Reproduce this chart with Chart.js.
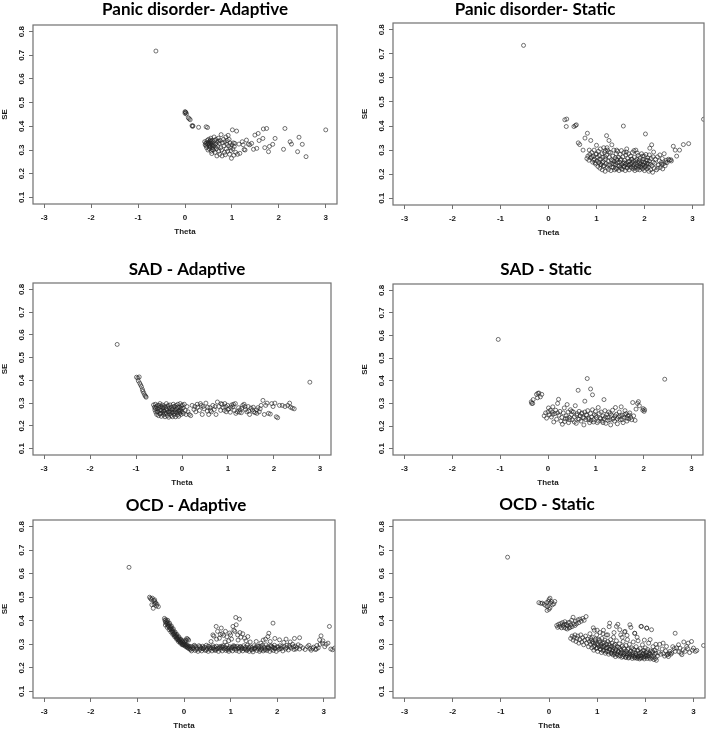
<!DOCTYPE html>
<html>
<head>
<meta charset="utf-8">
<script src="https://cdn.jsdelivr.net/npm/chart.js@4.4.1/dist/chart.umd.min.js"></script>
<style>
html, body { margin: 0; padding: 0; background: #fff; overflow: hidden; }
#page { position: relative; width: 709px; height: 732px; }
canvas { position: absolute; }
</style>
</head>
<body>
<div id="page"></div>
<script>
// axis ticks and ranges (R default 4% extension of -3..3 and 0.1..0.8)
const thetaTicks = [-3, -2, -1, 0, 1, 2, 3];
const seTicks = [0.1, 0.2, 0.3, 0.4, 0.5, 0.6, 0.7, 0.8];
const thetaRange = [-3.24, 3.24];
const seRange = [0.072, 0.828];
const panelTitles = ['Panic disorder- Adaptive', 'Panic disorder- Static', 'SAD - Adaptive', 'SAD - Static', 'OCD - Adaptive', 'OCD - Static'];

// [theta, SE]
const panicAdaptive = [
  [-0.62,0.718],
  [0.0,0.462],[0.01,0.460],[0.02,0.458],[0.0,0.455],[0.03,0.452],
  [0.07,0.436],[0.09,0.432],[0.11,0.428],[0.15,0.403],[0.16,0.400],[0.17,0.402],
  [0.29,0.396],[0.45,0.398],[0.48,0.395],
  [0.42,0.335],[0.44,0.328],[0.45,0.318],[0.46,0.310],[0.47,0.340],[0.48,0.325],[0.49,0.300],[0.50,0.332],[0.50,0.345],[0.51,0.318],
  [0.52,0.322],[0.52,0.305],[0.53,0.338],[0.54,0.315],[0.55,0.350],[0.55,0.328],[0.56,0.295],[0.57,0.285],[0.57,0.320],[0.58,0.340],
  [0.59,0.310],[0.60,0.330],[0.61,0.300],[0.62,0.355],[0.62,0.318],[0.63,0.340],[0.64,0.290],[0.65,0.325],[0.66,0.345],[0.67,0.305],
  [0.68,0.275],[0.69,0.335],[0.70,0.315],[0.71,0.350],[0.72,0.295],[0.73,0.328],[0.74,0.282],[0.75,0.340],[0.76,0.310],[0.77,0.365],
  [0.78,0.300],[0.79,0.275],[0.80,0.330],[0.82,0.345],[0.83,0.318],[0.84,0.290],[0.85,0.335],[0.86,0.280],[0.87,0.355],[0.88,0.305],
  [0.89,0.325],[0.90,0.340],[0.91,0.295],[0.92,0.362],[0.93,0.318],[0.94,0.345],[0.95,0.282],[0.96,0.330],[0.97,0.310],[0.98,0.298],
  [0.99,0.265],[1.00,0.322],[1.01,0.385],[1.02,0.305],[1.03,0.330],[1.04,0.278],[1.05,0.315],[1.06,0.328],[1.08,0.290],[1.10,0.380],
  [0.43,0.322],[0.46,0.330],[0.53,0.312],[0.56,0.335],[0.58,0.302],[0.60,0.320],[0.51,0.328],[0.54,0.342],[0.65,0.312],[0.72,0.338],
  [1.17,0.286],[1.22,0.335],[1.24,0.322],[1.28,0.300],[1.31,0.342],[1.35,0.325],[1.42,0.328],[1.46,0.303],[1.49,0.363],[1.53,0.307],
  [1.56,0.370],[1.58,0.340],[1.67,0.389],[1.66,0.349],[1.70,0.310],[1.74,0.391],[1.78,0.293],[1.80,0.315],[1.87,0.324],[1.92,0.349],
  [2.13,0.391],[2.10,0.303],[2.24,0.335],[2.27,0.325],[2.40,0.293],[2.43,0.354],[2.50,0.324],[2.58,0.272],[3.00,0.385],[1.26,0.302],
  [1.38,0.322],[1.12,0.282],[1.15,0.325]
];

const panicStatic = [
  [-0.52,0.735],[0.34,0.426],[0.38,0.429],[0.37,0.398],[0.53,0.398],[0.58,0.405],[0.56,0.402],
  [0.62,0.330],[0.65,0.323],[0.72,0.300],[0.76,0.350],[0.81,0.370],[0.88,0.340],[0.85,0.300],
  [1.21,0.360],[1.56,0.400],[2.02,0.367],[3.23,0.428],
  [2.92,0.327],[2.81,0.323],[2.73,0.300],[2.67,0.275],[2.60,0.316],[2.64,0.300],[2.55,0.260],[2.56,0.255],[2.52,0.258],
  [0.80,0.265],[0.82,0.275],[0.84,0.258],[0.86,0.282],[0.88,0.268],[0.90,0.290],[0.92,0.250],[0.93,0.275],[0.95,0.300],[0.96,0.262],
  [0.98,0.242],[0.99,0.282],[1.00,0.320],[1.01,0.255],[1.02,0.270],[1.03,0.232],[1.04,0.295],[1.05,0.248],[1.06,0.278],[1.07,0.225],
  [1.08,0.305],[1.09,0.262],[1.10,0.240],[1.11,0.285],[1.12,0.218],[1.13,0.270],[1.14,0.252],[1.15,0.310],[1.16,0.235],[1.17,0.290],
  [1.18,0.212],[1.19,0.262],[1.20,0.245],[1.21,0.280],[1.22,0.228],[1.23,0.300],[1.24,0.255],[1.25,0.220],[1.26,0.340],[1.27,0.270],
  [1.28,0.238],[1.29,0.290],[1.30,0.215],[1.31,0.260],[1.32,0.322],[1.33,0.245],[1.34,0.275],[1.35,0.228],[1.36,0.300],[1.37,0.252],
  [1.38,0.218],[1.39,0.268],[1.40,0.240],[1.41,0.285],[1.42,0.222],[1.43,0.258],[1.44,0.295],[1.45,0.235],[1.46,0.270],[1.47,0.215],
  [1.48,0.250],[1.49,0.282],[1.50,0.228],[1.51,0.262],[1.52,0.298],[1.53,0.240],[1.54,0.220],[1.55,0.272],[1.56,0.245],[1.57,0.290],
  [1.58,0.232],[1.59,0.258],[1.60,0.215],[1.61,0.280],[1.62,0.245],[1.63,0.305],[1.64,0.225],[1.65,0.265],[1.66,0.238],[1.67,0.285],
  [1.68,0.218],[1.69,0.255],[1.70,0.242],
  [1.71,0.275],[1.72,0.228],[1.73,0.262],[1.74,0.248],[1.75,0.290],[1.76,0.222],[1.77,0.255],[1.78,0.238],[1.79,0.270],[1.80,0.215],
  [1.81,0.245],[1.82,0.300],[1.83,0.232],[1.84,0.262],[1.85,0.220],[1.86,0.250],[1.87,0.278],[1.88,0.235],[1.89,0.258],[1.90,0.218],
  [1.91,0.268],[1.92,0.242],[1.93,0.228],[1.94,0.285],[1.95,0.252],[1.96,0.222],[1.97,0.262],[1.98,0.238],[1.99,0.275],[2.00,0.215],
  [2.01,0.248],[2.02,0.232],[2.03,0.282],[2.04,0.258],[2.05,0.222],[2.06,0.245],[2.07,0.268],[2.08,0.230],[2.09,0.212],[2.10,0.255],
  [2.11,0.308],[2.12,0.240],[2.13,0.218],[2.14,0.265],[2.15,0.322],[2.16,0.235],[2.17,0.208],[2.18,0.250],[2.19,0.292],[2.20,0.225],
  [2.21,0.245],[2.23,0.262],[2.25,0.218],[2.27,0.272],[2.29,0.238],[2.31,0.255],[2.33,0.228],[2.35,0.248],[2.37,0.265],[2.39,0.242],
  [2.41,0.285],[2.43,0.235],[2.45,0.258],[2.47,0.248],[2.50,0.262],[2.28,0.225],[2.36,0.240],[2.44,0.250],[2.32,0.280],[2.38,0.222],
  [1.32,0.230],[1.36,0.242],[1.40,0.225],[1.44,0.248],[1.48,0.235],[1.52,0.222],[1.56,0.232],[1.60,0.240],[1.64,0.228],[1.68,0.236],
  [1.72,0.240],[1.76,0.230],[1.80,0.226],[1.84,0.240],[1.88,0.228],[1.92,0.232],[1.96,0.240],[2.00,0.228],[2.04,0.236],[2.08,0.242],
  [1.34,0.255],[1.42,0.262],[1.50,0.258],[1.58,0.248],[1.66,0.252],[1.74,0.262],[1.82,0.256],[1.90,0.248],[1.98,0.250],[2.06,0.258],
  [0.90,0.272],[0.94,0.258],[1.00,0.285],[1.06,0.262],[1.12,0.248],[1.18,0.272],[1.24,0.238],[1.14,0.232],[1.08,0.240],[0.97,0.248],
  [1.26,0.292],[1.22,0.310],[1.18,0.298],[1.42,0.300],[1.62,0.292],[1.78,0.298],[1.85,0.288],[1.96,0.275],[2.10,0.280],[2.18,0.272]
];

const sadAdaptive = [
  [-1.41,0.558],[2.78,0.392],
  [-0.99,0.414],[-0.96,0.410],[-0.93,0.415],[-0.95,0.398],[-0.92,0.388],[-0.90,0.380],[-0.88,0.372],[-0.86,0.360],
  [-0.85,0.352],[-0.83,0.344],[-0.81,0.335],[-0.79,0.330],[-0.78,0.326],
  [-0.62,0.292],[-0.60,0.282],[-0.59,0.270],[-0.58,0.295],[-0.57,0.260],[-0.56,0.285],[-0.55,0.250],[-0.54,0.275],[-0.53,0.290],[-0.52,0.262],
  [-0.51,0.245],[-0.50,0.280],[-0.49,0.270],[-0.48,0.298],[-0.47,0.255],[-0.46,0.285],[-0.45,0.242],[-0.44,0.268],[-0.43,0.292],[-0.42,0.258],
  [-0.41,0.278],[-0.40,0.248],[-0.39,0.288],[-0.38,0.265],[-0.37,0.240],[-0.36,0.282],[-0.35,0.255],[-0.34,0.298],[-0.33,0.270],[-0.32,0.245],
  [-0.31,0.285],[-0.30,0.262],[-0.29,0.238],[-0.28,0.278],[-0.27,0.252],[-0.26,0.292],[-0.25,0.268],[-0.24,0.245],[-0.23,0.282],[-0.22,0.258],
  [-0.21,0.240],[-0.20,0.275],[-0.19,0.295],[-0.18,0.262],[-0.17,0.248],[-0.16,0.285],[-0.15,0.270],[-0.14,0.240],[-0.13,0.290],[-0.12,0.258],
  [-0.11,0.275],[-0.10,0.248],[-0.09,0.295],[-0.08,0.265],[-0.07,0.242],[-0.06,0.282],[-0.05,0.255],[-0.04,0.298],[-0.03,0.270],[-0.02,0.250],
  [-0.01,0.288],[0.00,0.262],[0.01,0.292],[0.02,0.278],[0.03,0.255],[0.05,0.295],[0.07,0.268],[0.09,0.250],[0.11,0.285],[0.13,0.262],
  [-0.58,0.278],[-0.54,0.262],[-0.50,0.290],[-0.46,0.270],[-0.42,0.282],[-0.38,0.255],[-0.34,0.275],[-0.30,0.290],[-0.26,0.260],[-0.22,0.272],
  [-0.18,0.285],[-0.14,0.262],[-0.10,0.282],[-0.06,0.268],[-0.02,0.278],[-0.48,0.252],[-0.40,0.265],[-0.28,0.262],[-0.16,0.255],[-0.04,0.262],
  [0.16,0.250],[0.19,0.245],[0.22,0.290],[0.26,0.272],[0.30,0.262],[0.34,0.282],[0.38,0.268],[0.40,0.298],[0.42,0.290],[0.44,0.250],
  [0.48,0.275],[0.52,0.300],[0.55,0.265],[0.58,0.250],[0.61,0.280],[0.64,0.262],[0.67,0.290],[0.70,0.272],[0.74,0.250],[0.77,0.305],
  [0.80,0.285],[0.84,0.268],[0.87,0.295],[0.90,0.280],[0.93,0.298],[0.96,0.262],[0.99,0.290],[1.02,0.275],[1.05,0.260],[1.08,0.292],
  [1.11,0.285],[1.14,0.268],[1.17,0.255],[1.20,0.262],[1.23,0.280],[1.26,0.270],[1.29,0.258],[1.32,0.290],[1.35,0.295],[1.38,0.272],
  [1.41,0.262],[1.44,0.285],[1.47,0.250],[1.50,0.278],[1.53,0.270],[1.56,0.262],[1.59,0.258],[1.62,0.270],[1.65,0.280],[1.68,0.262],
  [1.72,0.290],[1.76,0.312],[1.79,0.250],[1.82,0.290],[1.85,0.300],[1.88,0.255],[1.92,0.252],[1.95,0.298],[1.98,0.285],[2.02,0.300],
  [2.05,0.240],[2.08,0.236],[2.12,0.290],[2.18,0.290],[2.24,0.285],[2.30,0.290],[2.34,0.300],[2.36,0.282],[2.40,0.278],[2.44,0.275],
  [0.33,0.295],[0.46,0.285],[0.62,0.268],[0.72,0.285],[0.85,0.298],[0.95,0.285],[1.00,0.272],[1.06,0.282],[1.16,0.298],[1.25,0.260],
  [1.30,0.278],[1.37,0.285],[1.45,0.265],[1.55,0.282],[1.63,0.255],[1.70,0.275],[0.28,0.285],[0.56,0.282],[0.92,0.268],[1.12,0.295]
];

const sadStatic = [
  [-1.04,0.583],[2.44,0.407],
  [0.82,0.410],[0.89,0.364],[0.93,0.338],[0.63,0.358],[1.17,0.317],[0.77,0.310],
  [-0.35,0.307],[-0.34,0.300],[-0.31,0.317],[-0.24,0.340],[-0.21,0.345],[-0.19,0.346],[-0.13,0.340],[-0.16,0.329],[-0.32,0.300],[-0.22,0.325],
  [-0.08,0.245],[-0.05,0.258],[-0.03,0.235],[0.00,0.262],[0.01,0.280],[0.03,0.250],[0.05,0.270],[0.07,0.240],[0.09,0.262],[0.10,0.285],
  [0.12,0.218],[0.14,0.255],[0.16,0.270],[0.18,0.230],[0.20,0.300],[0.22,0.318],[0.23,0.248],[0.25,0.265],[0.27,0.222],[0.29,0.238],
  [0.30,0.208],[0.32,0.258],[0.34,0.280],[0.36,0.232],[0.38,0.245],[0.40,0.295],[0.42,0.262],[0.43,0.215],[0.45,0.238],[0.47,0.272],
  [0.49,0.250],[0.51,0.228],[0.53,0.262],[0.55,0.240],[0.57,0.290],[0.59,0.212],[0.61,0.255],[0.63,0.232],[0.65,0.265],[0.67,0.245],
  [0.69,0.222],[0.71,0.258],[0.73,0.238],[0.75,0.205],[0.77,0.262],[0.79,0.228],[0.81,0.248],[0.83,0.268],[0.85,0.235],[0.87,0.215],
  [0.89,0.255],[0.91,0.240],[0.93,0.272],[0.95,0.228],[0.97,0.250],[0.99,0.265],[1.01,0.238],[1.03,0.215],[1.05,0.282],[1.07,0.255],
  [1.09,0.235],[1.11,0.262],[1.13,0.222],[1.15,0.245],[1.17,0.232],[1.19,0.268],[1.21,0.212],[1.23,0.250],[1.25,0.238],[1.27,0.262],
  [1.29,0.228],[1.31,0.205],[1.33,0.248],[1.35,0.270],[1.37,0.235],[1.39,0.222],[1.41,0.282],[1.43,0.252],[1.45,0.210],[1.47,0.240],
  [1.49,0.262],[1.51,0.228],[1.53,0.285],[1.55,0.248],[1.57,0.215],[1.59,0.238],[1.61,0.268],[1.63,0.255],[1.65,0.222],[1.67,0.245],
  [1.69,0.232],[1.71,0.258],[1.73,0.238],[1.75,0.228],[1.77,0.304],[1.79,0.245],[1.82,0.225],[1.87,0.300],[1.89,0.308],[1.91,0.290],
  [1.99,0.277],[2.01,0.265],[1.98,0.270],[2.02,0.272],[1.84,0.275],
  [0.35,0.220],[0.45,0.228],[0.55,0.218],[0.65,0.230],[0.75,0.235],[0.85,0.228],[0.95,0.218],[1.05,0.222],[1.15,0.215],[1.25,0.225],
  [1.35,0.230],[1.45,0.232],[1.55,0.228],[1.65,0.235],[1.20,0.240],[1.00,0.245],[0.80,0.250],[0.60,0.248],[0.40,0.235],[1.40,0.245],
  [1.60,0.250],[0.20,0.258],[0.10,0.252],[1.10,0.232],[0.90,0.225],[0.70,0.255],[0.50,0.265],[1.30,0.255],[1.50,0.245],[1.70,0.248]
];

const ocdAdaptive = [
  [-1.18,0.627],
  [-0.74,0.500],[-0.72,0.495],[-0.70,0.490],[-0.68,0.496],[-0.65,0.486],[-0.63,0.489],[-0.61,0.475],[-0.66,0.453],[-0.59,0.463],
  [-0.55,0.460],[-0.62,0.480],[-0.58,0.470],[-0.69,0.468],[-0.64,0.470],
  [-0.42,0.410],[-0.41,0.402],[-0.40,0.395],[-0.39,0.405],[-0.38,0.390],[-0.37,0.398],[-0.36,0.385],[-0.35,0.392],[-0.34,0.380],[-0.33,0.376],
  [-0.32,0.385],[-0.31,0.370],[-0.30,0.378],[-0.29,0.365],[-0.28,0.372],[-0.27,0.360],[-0.26,0.366],[-0.25,0.355],[-0.24,0.350],[-0.23,0.358],
  [-0.22,0.345],[-0.21,0.340],[-0.20,0.348],[-0.19,0.336],[-0.18,0.342],[-0.17,0.332],[-0.16,0.328],[-0.15,0.335],[-0.14,0.325],[-0.13,0.320],
  [-0.12,0.328],[-0.11,0.318],[-0.10,0.315],[-0.09,0.322],[-0.08,0.312],[-0.07,0.308],[-0.06,0.316],[-0.05,0.305],[-0.04,0.310],[-0.03,0.302],
  [-0.02,0.298],[-0.01,0.306],[0.00,0.300],[0.01,0.294],[0.02,0.302],[0.03,0.296],[0.04,0.290],[0.05,0.298],[0.06,0.292],[0.07,0.286],
  [0.08,0.295],[0.09,0.288],[0.10,0.282],[0.11,0.292],[0.12,0.285],[0.13,0.278],[0.14,0.290],[0.15,0.280],
  [-0.40,0.382],[-0.36,0.372],[-0.32,0.362],[-0.28,0.352],[-0.24,0.342],[-0.20,0.332],[-0.16,0.322],[-0.12,0.312],[-0.08,0.305],[-0.04,0.298],
  [-0.35,0.402],[-0.31,0.390],[-0.27,0.378],[-0.23,0.366],[-0.19,0.352],[-0.15,0.342],[-0.11,0.332],[-0.07,0.322],[-0.03,0.315],[0.01,0.310],
  [0.05,0.315],[0.08,0.322],[0.10,0.318],[0.06,0.325],[0.03,0.318],
  [0.16,0.272],[0.18,0.290],[0.20,0.280],[0.22,0.296],[0.24,0.274],[0.26,0.288],[0.28,0.282],[0.30,0.270],[0.32,0.294],[0.34,0.278],
  [0.36,0.286],[0.38,0.272],[0.40,0.292],[0.42,0.280],[0.44,0.288],[0.46,0.274],[0.48,0.296],[0.50,0.282],[0.52,0.270],[0.54,0.290],
  [0.56,0.278],[0.58,0.286],[0.60,0.272],[0.62,0.294],[0.64,0.280],[0.66,0.288],[0.68,0.274],[0.70,0.292],[0.72,0.282],[0.74,0.270],
  [0.76,0.290],[0.78,0.278],[0.80,0.286],[0.82,0.272],[0.84,0.294],[0.86,0.280],[0.88,0.288],[0.90,0.274],[0.92,0.296],[0.94,0.282],
  [0.96,0.270],[0.98,0.290],[1.00,0.278],[1.02,0.286],[1.04,0.272],[1.06,0.294],[1.08,0.280],[1.10,0.288],[1.12,0.274],[1.14,0.292],
  [1.16,0.282],[1.18,0.270],[1.20,0.290],[1.22,0.278],[1.24,0.286],[1.26,0.272],[1.28,0.294],[1.30,0.280],[1.32,0.288],[1.34,0.274],
  [1.36,0.296],[1.38,0.282],[1.40,0.270],[1.42,0.290],[1.44,0.278],[1.46,0.286],[1.48,0.268],[1.50,0.294],[1.52,0.280],[1.54,0.288],
  [1.56,0.274],[1.58,0.292],[1.60,0.282],[1.62,0.270],[1.64,0.290],[1.66,0.278],[1.68,0.296],[1.70,0.272],[1.72,0.288],[1.74,0.280],
  [1.76,0.298],[1.78,0.274],[1.80,0.290],[1.82,0.282],[1.84,0.270],[1.86,0.294],[1.88,0.278],[1.90,0.288],[1.92,0.274],[1.94,0.296],
  [1.96,0.282],[1.98,0.270],[2.00,0.290],[2.03,0.278],[2.06,0.294],[2.09,0.282],[2.12,0.272],[2.15,0.290],[2.18,0.280],[2.21,0.296],
  [2.24,0.276],[2.27,0.288],[2.30,0.284],[2.33,0.300],[2.36,0.278],[2.39,0.292],[2.42,0.286],[2.45,0.298],[2.48,0.280],[2.50,0.292],
  [0.20,0.286],[0.27,0.278],[0.34,0.290],[0.41,0.284],[0.48,0.276],[0.55,0.284],[0.62,0.286],[0.69,0.280],[0.76,0.284],[0.83,0.288],
  [0.90,0.282],[0.97,0.284],[1.04,0.288],[1.11,0.280],[1.18,0.286],[1.25,0.282],[1.32,0.280],[1.39,0.288],[1.46,0.276],[1.53,0.284],
  [1.60,0.290],[1.67,0.284],[1.74,0.276],[1.81,0.286],[1.88,0.292],[1.95,0.284],[2.02,0.288],[2.10,0.290],[2.20,0.286],[2.35,0.290],
  [0.24,0.292],[0.38,0.282],[0.52,0.292],[0.66,0.276],[0.80,0.292],[0.94,0.276],[1.08,0.292],[1.22,0.290],[1.36,0.276],[1.50,0.282],
  [1.64,0.276],[1.78,0.284],[1.92,0.286],[2.06,0.282],[2.26,0.294],[2.40,0.280],
  [0.62,0.340],[0.64,0.335],[0.69,0.376],[0.72,0.355],[0.76,0.326],[0.80,0.369],[0.82,0.345],[0.85,0.338],[0.89,0.355],[0.92,0.332],
  [0.98,0.348],[1.02,0.322],[1.05,0.376],[1.07,0.360],[1.09,0.355],[1.11,0.414],[1.12,0.383],[1.15,0.340],[1.19,0.407],[1.22,0.330],
  [1.26,0.345],[1.30,0.326],[1.33,0.315],[1.37,0.333],[1.42,0.310],[1.55,0.312],[1.65,0.305],[1.70,0.318],[1.75,0.322],[1.80,0.333],
  [1.82,0.347],[1.85,0.312],[1.91,0.390],[1.95,0.325],[2.05,0.319],[2.19,0.322],[2.37,0.325],[2.48,0.328],[2.28,0.310],[2.14,0.308],
  [0.58,0.312],[0.70,0.322],[0.88,0.310],[0.96,0.315],[1.00,0.340],[1.16,0.318],[0.78,0.342],[1.20,0.350],
  [2.55,0.285],[2.60,0.278],[2.65,0.290],[2.70,0.282],[2.73,0.275],[2.78,0.288],[2.82,0.278],[2.85,0.295],[2.88,0.285],[2.92,0.300],
  [2.94,0.336],[2.91,0.319],[2.97,0.305],[3.02,0.290],[3.09,0.305],[3.12,0.376],[3.15,0.280],[3.19,0.277],[3.23,0.284],[2.98,0.315],
  [2.68,0.296],[2.76,0.282],[2.84,0.280],[3.05,0.300]
];

const ocdStatic = [
  [-0.86,0.670],
  [-0.21,0.477],[-0.17,0.474],[-0.14,0.475],[-0.10,0.470],[-0.05,0.477],[0.00,0.490],[0.02,0.496],[-0.03,0.460],[0.00,0.449],
  [-0.04,0.444],[0.05,0.482],[0.10,0.472],[0.12,0.482],[0.07,0.468],[-0.01,0.482],[0.03,0.475],[-0.07,0.465],[0.02,0.455],
  [0.16,0.380],[0.18,0.372],[0.20,0.385],[0.22,0.376],[0.24,0.388],[0.26,0.370],[0.28,0.392],[0.29,0.380],[0.31,0.372],[0.33,0.396],
  [0.35,0.368],[0.36,0.385],[0.38,0.378],[0.40,0.392],[0.42,0.370],[0.43,0.393],[0.45,0.382],[0.47,0.402],[0.50,0.415],[0.52,0.386],
  [0.55,0.398],[0.57,0.387],[0.60,0.404],[0.62,0.392],[0.64,0.407],[0.67,0.398],[0.70,0.410],[0.73,0.402],[0.77,0.418],[0.48,0.375],
  [0.32,0.385],[0.38,0.365],[0.44,0.372],[0.54,0.380],
  [0.45,0.325],[0.48,0.335],[0.50,0.318],[0.52,0.330],[0.54,0.340],[0.56,0.312],[0.58,0.325],[0.60,0.335],[0.62,0.305],[0.64,0.320],
  [0.66,0.340],[0.68,0.310],[0.70,0.328],[0.72,0.298],[0.74,0.318],[0.76,0.335],[0.78,0.305],[0.80,0.322],[0.82,0.290],[0.84,0.312],
  [0.85,0.345],[0.86,0.300],[0.88,0.318],[0.89,0.285],[0.90,0.330],[0.92,0.305],[0.93,0.275],[0.94,0.360],[0.95,0.295],[0.96,0.315],
  [0.98,0.282],[0.99,0.340],[1.00,0.302],[1.01,0.270],[1.02,0.322],[1.04,0.290],[1.05,0.310],[1.06,0.350],[1.07,0.278],[1.08,0.300],
  [1.09,0.265],[1.10,0.325],[1.11,0.288],[1.12,0.305],[1.13,0.360],[1.14,0.275],[1.15,0.295],[1.16,0.318],[1.17,0.262],[1.18,0.285],
  [1.19,0.340],[1.20,0.300],[1.21,0.270],[1.22,0.312],[1.23,0.288],[1.24,0.258],[1.25,0.375],[1.26,0.295],[1.27,0.278],[1.28,0.320],
  [1.29,0.262],[1.30,0.290],
  [1.31,0.305],[1.32,0.272],[1.33,0.255],[1.34,0.330],[1.35,0.285],[1.36,0.265],[1.37,0.300],[1.38,0.248],[1.39,0.278],[1.40,0.315],
  [1.41,0.260],[1.42,0.290],[1.43,0.385],[1.44,0.270],[1.45,0.250],[1.46,0.302],[1.47,0.282],[1.48,0.262],[1.49,0.340],[1.50,0.275],
  [1.51,0.245],[1.52,0.292],[1.53,0.265],[1.54,0.312],[1.55,0.255],[1.56,0.280],[1.57,0.352],[1.58,0.262],[1.59,0.245],[1.60,0.295],
  [1.61,0.270],[1.62,0.252],[1.63,0.320],[1.64,0.278],[1.65,0.242],[1.66,0.262],[1.67,0.300],[1.68,0.250],[1.69,0.270],[1.70,0.372],
  [1.71,0.258],[1.72,0.285],[1.73,0.240],[1.74,0.265],[1.75,0.310],[1.76,0.250],[1.77,0.275],[1.78,0.347],[1.79,0.245],[1.80,0.262],
  [1.81,0.290],[1.82,0.255],[1.83,0.240],[1.84,0.272],[1.85,0.315],[1.86,0.248],[1.87,0.262],[1.88,0.238],[1.89,0.282],[1.90,0.252],
  [1.91,0.376],[1.92,0.265],[1.93,0.242],[1.94,0.298],[1.95,0.258],[1.96,0.245],[1.97,0.275],[1.98,0.238],[1.99,0.255],[2.00,0.285],
  [2.01,0.248],[2.02,0.265],[2.03,0.369],[2.04,0.240],[2.05,0.278],[2.06,0.252],[2.07,0.305],[2.08,0.245],[2.09,0.262],[2.10,0.238],
  [2.11,0.272],[2.12,0.250],[2.13,0.362],[2.14,0.242],[2.15,0.265],[2.16,0.290],[2.17,0.248],[2.18,0.235],[2.19,0.258],[2.20,0.275],
  [2.21,0.240],[2.22,0.262],[2.23,0.232],[2.24,0.285],[2.25,0.250],
  [0.90,0.310],[0.96,0.305],[1.02,0.298],[1.08,0.292],[1.14,0.290],[1.20,0.285],[1.26,0.280],[1.32,0.278],[1.38,0.272],[1.44,0.268],
  [1.50,0.265],[1.56,0.262],[1.62,0.260],[1.68,0.258],[1.74,0.255],[1.80,0.252],[1.86,0.250],[1.92,0.250],[1.98,0.248],[2.04,0.250],
  [0.93,0.290],[1.00,0.285],[1.06,0.280],[1.12,0.272],[1.18,0.270],[1.24,0.268],[1.30,0.262],[1.36,0.258],[1.42,0.255],[1.48,0.252],
  [1.54,0.248],[1.60,0.245],[1.66,0.245],[1.72,0.248],[1.78,0.242],[1.84,0.245],[1.90,0.242],[1.96,0.262],[2.02,0.255],[2.08,0.258],
  [0.87,0.325],[0.97,0.322],[1.05,0.318],[1.15,0.308],[1.25,0.302],[1.35,0.295],[1.45,0.288],[1.55,0.285],[1.65,0.282],[1.75,0.280],
  [1.85,0.275],[1.95,0.272],[2.05,0.268],[2.15,0.270],
  [1.26,0.390],[1.40,0.376],[1.47,0.362],[1.58,0.355],[1.68,0.383],[1.78,0.347],[1.92,0.376],[2.03,0.369],[1.22,0.340],[1.35,0.350],
  [1.52,0.330],[1.62,0.338],[1.83,0.330],[1.98,0.318],[2.10,0.320],[2.22,0.300],[1.12,0.345],[1.00,0.360],[0.92,0.370],
  [2.28,0.265],[2.30,0.300],[2.32,0.258],[2.35,0.280],[2.37,0.305],[2.38,0.260],[2.40,0.250],[2.42,0.272],[2.44,0.291],[2.45,0.255],
  [2.47,0.258],[2.48,0.248],[2.50,0.262],[2.51,0.270],[2.53,0.258],[2.55,0.263],[2.57,0.290],[2.60,0.282],[2.62,0.347],[2.62,0.270],
  [2.65,0.285],[2.69,0.298],[2.72,0.284],[2.74,0.262],[2.76,0.256],[2.79,0.277],[2.83,0.270],[2.86,0.291],[2.89,0.305],[2.92,0.265],
  [2.96,0.312],[2.98,0.275],[3.00,0.284],[3.04,0.270],[3.07,0.274],[3.21,0.295],[2.80,0.310],[2.70,0.268],[2.88,0.282]
];

const panelData = [panicAdaptive, panicStatic, sadAdaptive, sadStatic, ocdAdaptive, ocdStatic];

// page geometry of each panel: canvas origin, title centre, plot box
const layout = [
  { left: 0,   top: 0,   titleX: 195, titleY: 10,  plotRight: 337, plotTop: 25,  plotBottom: 204 },
  { left: 360, top: 0,   titleX: 535, titleY: 10,  plotRight: 704, plotTop: 23,  plotBottom: 205 },
  { left: 0,   top: 240, titleX: 187, titleY: 270, plotRight: 331, plotTop: 283, plotBottom: 455 },
  { left: 360, top: 240, titleX: 546, titleY: 270, plotRight: 703, plotTop: 284, plotBottom: 455 },
  { left: 0,   top: 480, titleX: 186, titleY: 506, plotRight: 335, plotTop: 520, plotBottom: 698 },
  { left: 360, top: 480, titleX: 547, titleY: 505, plotRight: 705, plotTop: 520, plotBottom: 698 }
];

const axisWidth = 33;
const xAxisHeight = 36;
const titleSize = 17;
const axisFont = { family: '"Liberation Sans", Arial, sans-serif', size: 8, weight: 'bold', lineHeight: 1.2 };

// R style box round the plot region
const frame = {
  id: 'frame',
  afterDatasetsDraw(chart) {
    const { ctx, chartArea: a } = chart;
    ctx.save();
    ctx.strokeStyle = '#707070';
    ctx.lineWidth = 1.2;
    ctx.strokeRect(a.left, a.top, a.right - a.left, a.bottom - a.top);
    ctx.restore();
  }
};

const page = document.getElementById('page');

layout.forEach((p, i) => {
  const canvas = document.createElement('canvas');
  const width = 2 * (p.titleX - p.left);
  const height = p.plotBottom + xAxisHeight - p.top;
  canvas.width = width;
  canvas.height = height;
  canvas.style.left = p.left + 'px';
  canvas.style.top = p.top + 'px';
  page.appendChild(canvas);

  const padTop = p.titleY - p.top - titleSize / 2;
  const padBottom = p.plotTop - p.top - padTop - titleSize;
  const rightGap = p.left + width - p.plotRight;

  new Chart(canvas, {
    type: 'scatter',
    data: {
      datasets: [{
        data: panelData[i].map(([x, y]) => ({ x, y })),
        pointStyle: 'circle',
        pointRadius: 2,
        pointBorderWidth: 0.85,
        pointBorderColor: 'rgba(35,35,35,0.75)',
        pointBackgroundColor: 'rgba(0,0,0,0)',
        clip: 0
      }]
    },
    options: {
      responsive: false,
      animation: false,
      events: [],
      layout: { padding: 0 },
      plugins: {
        legend: { display: false },
        tooltip: { enabled: false },
        title: {
          display: true,
          text: panelTitles[i],
          color: '#000',
          font: { family: 'Lato, "Open Sans", sans-serif', size: titleSize, weight: 'bold', lineHeight: 1 },
          padding: { top: padTop, bottom: padBottom }
        }
      },
      scales: {
        x: {
          type: 'linear',
          min: thetaRange[0],
          max: thetaRange[1],
          afterBuildTicks: s => { s.ticks = thetaTicks.map(v => ({ value: v })); },
          afterFit: s => { s.height = xAxisHeight; },
          border: { display: false },
          grid: { drawOnChartArea: false, drawTicks: true, tickLength: 4, color: '#707070' },
          ticks: { color: '#1a1a1a', font: axisFont, padding: 5, maxRotation: 0, callback: v => String(v) },
          title: { display: true, text: 'Theta', color: '#1a1a1a', font: axisFont, padding: { top: 0, bottom: 3.2 } }
        },
        y: {
          type: 'linear',
          min: seRange[0],
          max: seRange[1],
          afterBuildTicks: s => { s.ticks = seTicks.map(v => ({ value: v })); },
          afterFit: s => { s.width = axisWidth; },
          border: { display: false },
          grid: { drawOnChartArea: false, drawTicks: true, tickLength: 4, color: '#707070' },
          ticks: { color: '#1a1a1a', font: axisFont, padding: 2, minRotation: 90, maxRotation: 90, crossAlign: 'center', callback: v => v.toFixed(1) },
          title: { display: true, text: 'SE', color: '#1a1a1a', font: axisFont, padding: { top: 0, bottom: 0 } }
        },
        y2: {
          type: 'linear',
          position: 'right',
          display: true,
          afterFit: s => { s.width = rightGap; },
          border: { display: false },
          grid: { display: false },
          ticks: { display: false }
        }
      }
    },
    plugins: [frame]
  });
});
</script>
</body>
</html>
